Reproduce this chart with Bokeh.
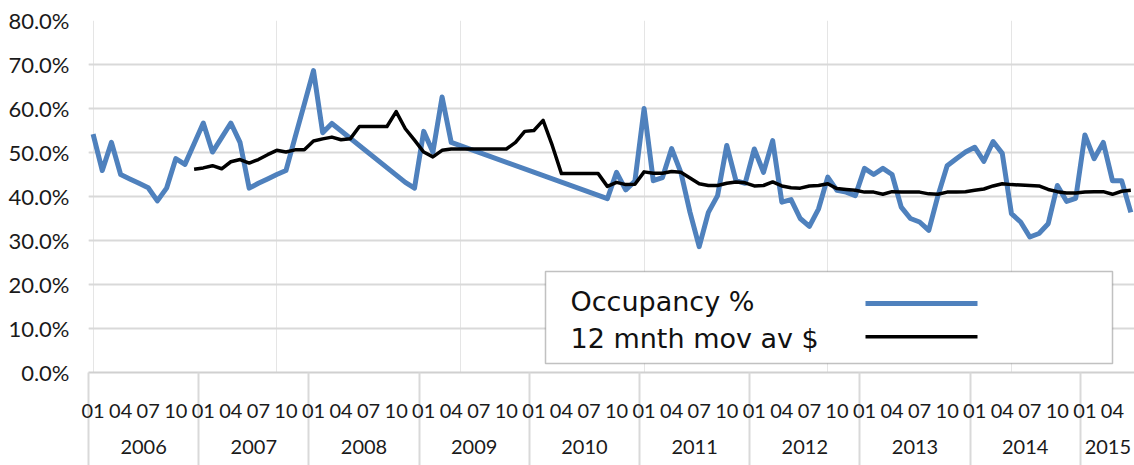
from bokeh.plotting import figure
from bokeh.models import (Range1d, LinearAxis, FixedTicker, CustomJSTickFormatter,
                          Grid, BoxAnnotation, Label)
from bokeh.embed import file_html
from bokeh.resources import INLINE

# ---------------- data ----------------
years = [2006, 2007, 2008, 2009, 2010, 2011, 2012, 2013, 2014, 2015]
year_labels = [str(y) for y in years]
month_tick_labels_cycle = ["01", "04", "07", "10"]

# monthly occupancy %, 2006-01 .. 2015-06 (None = no value recorded)
occupancy = [
    # 2006
    54.2, 45.9, 52.3, 45.0, 44.0, 43.0, 42.0, 39.0, 41.9, 48.6, 47.3, 52.0,
    # 2007
    56.7, 50.1, 53.4, 56.7, 52.3, 41.9, 43.0, 44.0, 45.0, 45.9, 53.5, 61.0,
    # 2008
    68.6, 54.5, 56.6, None, None, None, None, None, None, None, 43.2, 41.9,
    # 2009
    54.8, 50.1, 62.6, 52.3, None, None, None, None, None, None, None, None,
    # 2010
    None, None, None, None, None, None, None, None, 39.5, 45.5, 41.5, 43.5,
    # 2011
    60.0, 43.6, 44.3, 50.9, 45.5, 36.4, 28.6, 36.4, 40.2, 51.6, 43.6, 43.0,
    # 2012
    50.8, 45.5, 52.7, 38.7, 39.3, 35.0, 33.2, 37.2, 44.4, 41.4, 41.0, 40.2,
    # 2013
    46.4, 45.0, 46.4, 45.0, 37.6, 35.0, 34.2, 32.3, 40.2, 47.0, 48.6, 50.1,
    # 2014
    51.2, 48.0, 52.5, 49.8, 36.1, 34.2, 30.8, 31.6, 33.8, 42.5, 38.9, 39.6,
    # 2015
    54.0, 48.6, 52.3, 43.6, 43.6, 36.4,
]

# 12 month moving average $
moving_avg = [
    # 2006
    None, None, None, None, None, None, None, None, None, None, None, 46.2,
    # 2007
    46.5, 47.0, 46.3, 47.9, 48.4, 47.6, 48.4, 49.5, 50.5, 50.1, 50.6, 50.6,
    # 2008
    52.6, 53.1, 53.5, 52.9, 53.1, 55.9, 55.9, 55.9, 55.9, 59.3, 55.4, 52.8,
    # 2009
    50.1, 49.0, 50.5, 50.8, 50.8, 50.8, 50.8, 50.8, 50.8, 50.8, 52.3, 54.8,
    # 2010
    55.0, 57.3, 51.6, 45.2, 45.2, 45.2, 45.2, 45.2, 42.3, 43.2, 42.7, 42.8,
    # 2011
    45.6, 45.3, 45.3, 45.7, 45.5, 44.2, 42.9, 42.5, 42.5, 43.0, 43.3, 43.1,
    # 2012
    42.4, 42.5, 43.3, 42.4, 42.0, 41.9, 42.4, 42.5, 42.9, 41.8, 41.6, 41.4,
    # 2013
    41.0, 41.0, 40.5, 41.1, 41.0, 41.0, 41.0, 40.6, 40.5, 41.0, 41.0, 41.1,
    # 2014
    41.4, 41.7, 42.4, 42.9, 42.7, 42.6, 42.5, 42.4, 41.6, 41.1, 40.8, 40.8,
    # 2015
    41.0, 41.1, 41.1, 40.5, 41.2, 41.4,
]

series_names = ["Occupancy %", "12 mnth mov av $"]
y_ticks = [0, 10, 20, 30, 40, 50, 60, 70, 80]

# ---------------- derived positions ----------------
n = len(occupancy)
month_tick_pos = []
month_tick_labels = []
for i in range(n):
    m = i % 12
    if m in (0, 3, 6, 9):
        month_tick_pos.append(i)
        month_tick_labels.append(month_tick_labels_cycle[m // 3])

year_bounds = [12 * k - 0.5 for k in range(len(years))]
year_centers = []
for k in range(len(years)):
    start = 12 * k - 0.5
    end = min(12 * k + 11.5, n - 0.5)
    year_centers.append((start + end) / 2)

occ_x = [i for i, v in enumerate(occupancy) if v is not None]
occ_y = [v for v in occupancy if v is not None]
ma_x = [i for i, v in enumerate(moving_avg) if v is not None]
ma_y = [v for v in moving_avg if v is not None]

FONT = "Lato"
LEG_FONT = "DejaVu Sans"
BLUE = "#4f81bd"
GRID = "#d9d9d9"
SEP = 93

p = figure(width=1134, height=465, output_backend="svg", toolbar_location=None,
           x_range=Range1d(-0.5, 113.4), y_range=Range1d(0, 80),
           x_axis_location=None, y_axis_location=None,
           min_border_left=88, min_border_top=20, min_border_right=0,
           min_border_bottom=93)
p.outline_line_color = None
p.background_fill_color = "white"

# y axis
yaxis = LinearAxis(ticker=FixedTicker(ticks=y_ticks),
                   formatter=CustomJSTickFormatter(code="return tick.toFixed(1) + '%';"),
                   axis_line_color=None, major_tick_line_color=None,
                   minor_tick_line_color=None, major_label_standoff=13,
                   major_label_text_font=FONT, major_label_text_font_size="22px",
                   major_label_text_color="#1a1a1a")
p.add_layout(yaxis, "left")
p.add_layout(Grid(dimension=1, ticker=FixedTicker(ticks=y_ticks),
                  grid_line_color=GRID, grid_line_width=2))

# month axis (with year separators as long minor ticks)
month_axis = LinearAxis(
    ticker=FixedTicker(ticks=month_tick_pos, minor_ticks=year_bounds),
    formatter=CustomJSTickFormatter(
        args=dict(pos=month_tick_pos, labels=month_tick_labels),
        code="const k = pos.indexOf(tick); return k >= 0 ? labels[k] : '';"),
    axis_line_color="#d0d0d0", axis_line_width=2,
    major_tick_line_color=None,
    minor_tick_in=0, minor_tick_out=SEP, minor_tick_line_color=GRID,
    minor_tick_line_width=2,
    major_label_standoff=31 - SEP, major_label_text_font=FONT,
    major_label_text_font_size="20px", major_label_text_color="#1a1a1a")
p.add_layout(month_axis, "below")

year_axis = LinearAxis(
    ticker=FixedTicker(ticks=year_centers, minor_ticks=[]),
    formatter=CustomJSTickFormatter(
        args=dict(pos=year_centers, labels=year_labels),
        code="const k = pos.indexOf(tick); return k >= 0 ? labels[k] : '';"),
    axis_line_color=None, major_tick_line_color=None, minor_tick_line_color=None,
    major_label_standoff=13, major_label_text_font=FONT,
    major_label_text_font_size="20px", major_label_text_color="#1a1a1a")
p.add_layout(year_axis, "below")

# series
p.line(occ_x, occ_y, line_width=5, line_color=BLUE, line_join="round")
p.line(ma_x, ma_y, line_width=3.5, line_color="black", line_join="round")

# legend (label on the left, line sample on the right)
p.add_layout(BoxAnnotation(left=457, right=1024, bottom=9, top=101,
                           left_units="screen", right_units="screen",
                           bottom_units="screen", top_units="screen",
                           fill_color="white", fill_alpha=1,
                           line_color="#333333", line_width=1.5))
p.add_layout(Label(x=482, y=71, x_units="screen", y_units="screen",
                   text=series_names[0], text_font=LEG_FONT, text_font_size="27px",
                   text_baseline="middle", text_color="#111111"))
p.add_layout(Label(x=482, y=34, x_units="screen", y_units="screen",
                   text=series_names[1], text_font=LEG_FONT, text_font_size="27px",
                   text_baseline="middle", text_color="#111111"))
p.add_layout(BoxAnnotation(left=777, right=889, bottom=66.5, top=71.5,
                           left_units="screen", right_units="screen",
                           bottom_units="screen", top_units="screen",
                           fill_color=BLUE, fill_alpha=1, line_color=None))
p.add_layout(BoxAnnotation(left=777, right=889, bottom=34, top=37.5,
                           left_units="screen", right_units="screen",
                           bottom_units="screen", top_units="screen",
                           fill_color="black", fill_alpha=1, line_color=None))

open("out.html", "w").write(file_html(p, INLINE))
